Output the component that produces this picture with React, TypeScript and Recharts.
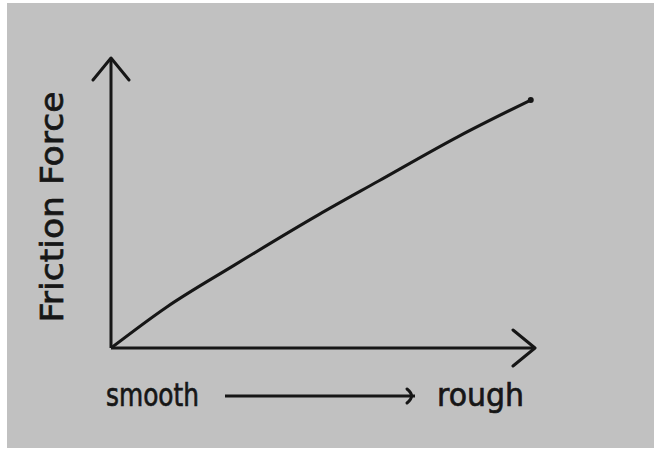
import { LineChart, Line, XAxis, YAxis } from "recharts";

// hand-drawn sketch: friction force vs surface roughness (no units, 0..10 scale)
const roughness = [0, 1.3, 2.9, 4.9, 6.3, 8.2, 9.9];
const frictionForce = [0, 1.4, 2.85, 4.6, 5.75, 7.3, 8.55];
const yAxisTitle = "Friction Force";
const lowLabel = "smooth";
const highLabel = "rough";

const INK = "#161616";
const FONT = "'DejaVu Sans', sans-serif";

const chartData = roughness.map((r, i) => ({ roughness: r, force: frictionForce[i] }));
const lastIndex = chartData.length - 1;

function YTitle(props: any) {
  const vb = props.viewBox;
  const x = vb.x - 47;
  const y = vb.y + vb.height / 2 + 4;
  return (
    <text
      x={x}
      y={y}
      transform={`rotate(-90, ${x}, ${y})`}
      textAnchor="middle"
      fontFamily={FONT}
      fontSize={32}
      fill={INK}
      stroke={INK}
      strokeWidth={0.7}
      textLength={231}
      lengthAdjust="spacingAndGlyphs"
    >
      {yAxisTitle}
    </text>
  );
}

function XTitle(props: any) {
  const vb = props.viewBox;
  const baseline = vb.y + 58;
  return (
    <g>
      <text
        x={vb.x - 5}
        y={baseline}
        fontFamily={FONT}
        fontSize={32}
        fill={INK}
        stroke={INK}
        strokeWidth={0.7}
        textLength={93}
        lengthAdjust="spacingAndGlyphs"
      >
        {lowLabel}
      </text>
      <line
        x1={vb.x + 114}
        y1={vb.y + 48}
        x2={vb.x + 304}
        y2={vb.y + 48}
        stroke={INK}
        strokeWidth={3}
        markerEnd="url(#smallHead)"
      />
      <text
        x={vb.x + 326}
        y={baseline}
        fontFamily={FONT}
        fontSize={32}
        fill={INK}
        stroke={INK}
        strokeWidth={0.7}
        textLength={87}
        lengthAdjust="spacingAndGlyphs"
      >
        {highLabel}
      </text>
    </g>
  );
}

function EndDot(props: any) {
  if (props.index !== lastIndex) return <g key={`d${props.index}`} />;
  return <circle key="end" cx={props.cx} cy={props.cy} r={3} fill={INK} />;
}

export default function App() {
  return (
    <div style={{ position: "fixed", left: 0, top: 0, width: 654, height: 449, background: "#fff" }}>
      <div
        style={{ position: "absolute", left: 7, top: 3, width: 647, height: 445, background: "#c1c1c1" }}
      />
      <div style={{ position: "absolute", left: 0, top: 0 }}>
        <LineChart
          width={654}
          height={449}
          data={chartData}
          margin={{ top: 58, right: 119, bottom: 100, left: 110 }}
        >
          <defs>
            <marker
              id="bigHead"
              viewBox="0 -20 32 40"
              refX={29}
              refY={0}
              markerWidth={32}
              markerHeight={40}
              markerUnits="userSpaceOnUse"
              orient="auto-start-reverse"
            >
              <path
                d="M7,-18 L29,0 L7,18"
                fill="none"
                stroke={INK}
                strokeWidth={3}
                strokeLinecap="round"
                strokeLinejoin="round"
              />
            </marker>
            <marker
              id="smallHead"
              viewBox="0 -10 14 20"
              refX={12}
              refY={0}
              markerWidth={14}
              markerHeight={20}
              markerUnits="userSpaceOnUse"
              orient="auto-start-reverse"
            >
              <path
                d="M4,-7 Q13,0 4,7"
                fill="none"
                stroke={INK}
                strokeWidth={3}
                strokeLinecap="round"
                strokeLinejoin="round"
              />
            </marker>
          </defs>
          <XAxis
            type="number"
            dataKey="roughness"
            domain={[0, 10]}
            height={1}
            tick={false}
            tickLine={false}
            axisLine={{ stroke: INK, strokeWidth: 3, markerEnd: "url(#bigHead)" }}
            label={{ content: XTitle }}
          />
          <YAxis
            type="number"
            domain={[0, 10]}
            width={1}
            tick={false}
            tickLine={false}
            axisLine={{ stroke: INK, strokeWidth: 3, markerStart: "url(#bigHead)" }}
            label={{ content: YTitle }}
          />
          <Line
            type="monotone"
            dataKey="force"
            stroke={INK}
            strokeWidth={3}
            dot={EndDot}
            activeDot={false}
            isAnimationActive={false}
          />
        </LineChart>
      </div>
    </div>
  );
}
